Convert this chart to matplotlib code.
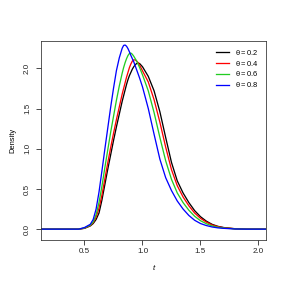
import numpy as np
import matplotlib
matplotlib.use('Agg')
from matplotlib import pyplot as plt


# density curves, common t grid
t = [0.10, 0.45, 0.50, 0.55, 0.575, 0.60, 0.625, 0.65, 0.675, 0.70, 0.725, 0.75,
     0.775, 0.80, 0.825, 0.8375, 0.85, 0.8625, 0.875, 0.8875, 0.90, 0.9125, 0.925,
     0.9375, 0.95, 0.9625, 0.975, 1.00, 1.05, 1.10, 1.15, 1.20, 1.25, 1.30, 1.35,
     1.40, 1.45, 1.50, 1.55, 1.60, 1.65, 1.70, 1.80, 1.90, 2.10]

dens_02 = [0.0, 0.0, 0.010, 0.040, 0.07, 0.12, 0.20, 0.36, 0.55, 0.74, 0.92, 1.10,
           1.27, 1.43, 1.59, 1.66, 1.73, 1.80, 1.86, 1.91, 1.95, 1.99, 2.02,
           2.045, 2.06, 2.065, 2.06, 2.02, 1.90, 1.72, 1.46, 1.14, 0.83, 0.60, 0.45,
           0.33, 0.23, 0.155, 0.10, 0.06, 0.035, 0.020, 0.005, 0.0, 0.0]
dens_04 = [0.0, 0.0, 0.012, 0.045, 0.08, 0.15, 0.26, 0.42, 0.62, 0.82, 1.01, 1.19,
           1.36, 1.52, 1.68, 1.75, 1.82, 1.89, 1.95, 2.01, 2.055, 2.09, 2.105,
           2.105, 2.09, 2.07, 2.04, 1.97, 1.83, 1.61, 1.33, 1.02, 0.74, 0.54, 0.40,
           0.29, 0.20, 0.135, 0.088, 0.053, 0.031, 0.018, 0.004, 0.0, 0.0]
dens_06 = [0.0, 0.0, 0.015, 0.050, 0.09, 0.18, 0.33, 0.53, 0.76, 0.98, 1.20, 1.40,
           1.60, 1.78, 1.94, 2.01, 2.07, 2.12, 2.16, 2.185, 2.19, 2.175, 2.15,
           2.12, 2.09, 2.05, 2.01, 1.92, 1.72, 1.45, 1.14, 0.85, 0.62, 0.45, 0.33,
           0.235, 0.16, 0.105, 0.068, 0.040, 0.024, 0.014, 0.003, 0.0, 0.0]
dens_08 = [0.0, 0.0, 0.020, 0.060, 0.12, 0.25, 0.46, 0.72, 0.99, 1.25, 1.51, 1.75,
           1.97, 2.13, 2.25, 2.285, 2.29, 2.275, 2.245, 2.205, 2.16, 2.12, 2.08,
           2.03, 1.98, 1.93, 1.88, 1.77, 1.50, 1.18, 0.87, 0.64, 0.48, 0.35, 0.25,
           0.17, 0.11, 0.07, 0.045, 0.027, 0.016, 0.010, 0.002, 0.0, 0.0]

series = [dens_02, dens_04, dens_06, dens_08]
labels = [r'$\mathregular{\theta = 0.2}$', r'$\mathregular{\theta = 0.4}$',
          r'$\mathregular{\theta = 0.6}$', r'$\mathregular{\theta = 0.8}$']
colors = ['black', 'red', '#22cc22', 'blue']

xticks = [0.5, 1.0, 1.5, 2.0]
yticks = [0.0, 0.5, 1.0, 1.5, 2.0]

plt.rcParams['font.family'] = ['Liberation Sans', 'DejaVu Sans']
plt.rcParams['mathtext.fontset'] = 'custom'
plt.rcParams['mathtext.rm'] = 'Liberation Sans'

fig = plt.figure(figsize=(4, 4), dpi=72)
ax = fig.add_axes([41 / 288, 48 / 288, 225 / 288, 199 / 288])

for dens, label, color in zip(series, labels, colors):
    ax.plot(t, dens, color=color, lw=1.3, label=label, solid_joinstyle='round')

ax.set_xlim(0.125, 2.065)
ax.set_ylim(-0.135, 2.34)
ax.set_xticks(xticks)
ax.set_xticklabels(['{:.1f}'.format(v) for v in xticks])
ax.set_yticks(yticks)
ax.set_yticklabels(['{:.1f}'.format(v) for v in yticks], rotation=90, va='center')
ax.tick_params(direction='out', length=5, width=0.8, labelsize=8, colors='#222222')
ax.tick_params(axis='x', pad=3)
ax.tick_params(axis='y', pad=5)
for sp in ax.spines.values():
    sp.set_linewidth(0.8)
    sp.set_color('#333333')

ax.set_xlabel('t', fontstyle='italic', fontsize=8, labelpad=10)
ax.set_ylabel('Density', fontsize=7.5, labelpad=8)

ax.legend(loc='upper right', frameon=False, fontsize=7.5, handlelength=1.8,
          handletextpad=0.8, labelspacing=0.25, borderaxespad=0.5)

fig.savefig('out.png', dpi=72)
